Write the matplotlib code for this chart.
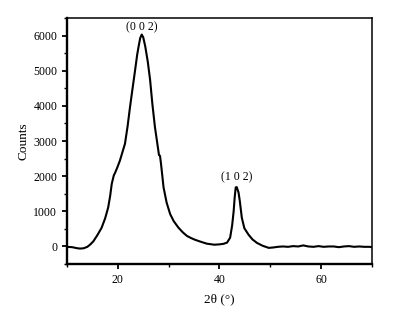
import matplotlib
matplotlib.use("Agg")
import matplotlib.pyplot as plt
from matplotlib.ticker import MultipleLocator

plt.rcParams["font.family"] = ["Liberation Serif", "DejaVu Serif"]

# XRD pattern
two_theta = [10.0, 11.0, 12.0, 12.6, 13.3, 14.0, 14.6, 15.2, 16.0, 16.8, 17.5,
             18.1, 18.5, 18.8, 19.2, 19.5, 19.9, 20.4, 20.9, 21.4, 21.9,
             22.4, 22.9, 23.4, 23.8, 24.1, 24.4, 24.7, 25.0, 25.4, 25.9,
             26.35, 26.8, 27.3, 27.8, 28.1, 28.3, 28.5, 29.0, 29.6, 30.3,
             31.0, 31.9, 32.8, 33.6, 34.4, 35.2, 36.2, 37.5, 39.0, 40.0,
             40.8, 41.5, 42.1, 42.5, 42.8, 43.0, 43.2, 43.4, 43.75, 44.0,
             44.4, 44.9, 45.7, 46.5, 47.4, 48.5, 49.7, 50.5, 51.5, 52.5,
             53.5, 54.5, 55.5, 56.5, 57.5, 58.5, 59.5, 60.5, 61.5, 62.5,
             63.5, 64.5, 65.5, 66.5, 67.5, 68.5, 69.5, 70.0]
counts = [-10, -20, -50, -60, -50, -10, 60, 150, 330, 530, 800,
          1110, 1450, 1780, 2020, 2110, 2250, 2440, 2680, 2920, 3400,
          3970, 4500, 5020, 5450, 5700, 5930, 6030, 5950, 5690, 5250,
          4740, 4050, 3400, 2900, 2600, 2580, 2350, 1680, 1250, 920,
          720, 540, 400, 300, 240, 190, 140, 80, 50, 60,
          75, 110, 250, 600, 1010, 1400, 1680, 1690, 1540, 1300,
          820, 520, 340, 200, 100, 20, -40, -30, -10, 0,
          -10, 10, 0, 30, 0, -10, 10, -10, 0, 0,
          -20, 0, 10, -10, 0, -10, -10, -20]

peak_labels = ["(0 0 2)", "(1 0 2)"]
peak_x = [24.7, 43.4]
peak_y = [6250, 1960]

fig, ax = plt.subplots(figsize=(3.99, 3.22), dpi=100)
fig.subplots_adjust(left=0.168, right=0.932, top=0.944, bottom=0.18)

ax.plot(two_theta, counts, color="black", linewidth=1.5)

for lab, px, py in zip(peak_labels, peak_x, peak_y):
    ax.text(px, py, lab, ha="center", va="center", fontsize=8.5)

ax.set_xlim(10, 70)
ax.set_ylim(-500, 6500)
ax.xaxis.set_major_locator(MultipleLocator(20))
ax.xaxis.set_minor_locator(MultipleLocator(10))
ax.yaxis.set_major_locator(MultipleLocator(1000))
ax.yaxis.set_minor_locator(MultipleLocator(500))
ax.tick_params(which="major", direction="out", length=3.5, width=1.3, labelsize=8.5)
ax.tick_params(which="minor", direction="out", length=2, width=1.0)
ax.tick_params(axis="x", which="major", pad=4)

for side in ["left", "bottom"]:
    ax.spines[side].set_linewidth(1.7)
for side in ["top", "right"]:
    ax.spines[side].set_linewidth(1.1)

ax.set_xlabel("2θ (°)", fontsize=9.5, labelpad=5)
ax.set_ylabel("Counts", fontsize=9.5, labelpad=3)

fig.savefig("out.png", dpi=100)
